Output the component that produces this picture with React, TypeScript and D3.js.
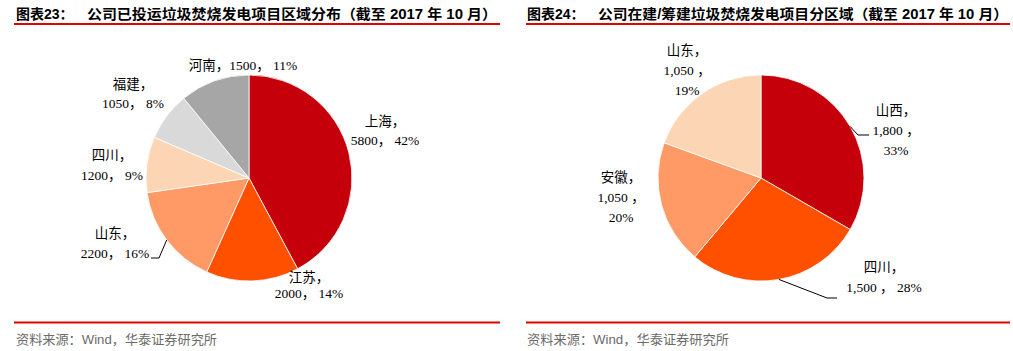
import * as React from 'react'
import { useEffect, useRef } from 'react'
import * as d3 from 'd3'

// chart 23: operating projects by region
const regions23 = ['上海', '江苏', '山东', '四川', '福建', '河南']
const values23 = [5800, 2000, 2200, 1200, 1050, 1500]
const pct23 = ['42%', '14%', '16%', '9%', '8%', '11%']
const colors23 = ['#C5000B', '#FF5000', '#FF9966', '#FCD5B5', '#D9D9D9', '#A6A6A6']

// chart 24: under construction / planned by region
const regions24 = ['山西', '四川', '安徽', '山东']
const values24 = [1800, 1500, 1050, 1050]
const valueText24 = ['1,800', '1,500', '1,050', '1,050']
const pct24 = ['33%', '28%', '20%', '19%']
const colors24 = ['#C5000B', '#FF5000', '#FF9966', '#FCD5B5']

const W = 1013
const H = 351
const R = 103
const LABEL_FONT = '"Liberation Serif", "DejaVu Serif", "Noto Sans CJK SC", serif'
const TITLE_FONT = '"Liberation Sans", Arial, "Noto Sans CJK SC", sans-serif'

function drawPie(
  g: d3.Selection<SVGGElement, unknown, null, undefined>,
  cx: number,
  cy: number,
  values: number[],
  colors: string[],
) {
  const pie = d3.pie<number>().sort(null).value(d => d)
  const arcs = pie(values)
  const arc = d3.arc<d3.PieArcDatum<number>>().innerRadius(0).outerRadius(R)
  const pg = g.append('g').attr('transform', `translate(${cx},${cy})`)
  pg.selectAll('path')
    .data(arcs)
    .join('path')
    .attr('d', arc)
    .attr('fill', (_, i) => colors[i])
    .attr('stroke', '#fff')
    .attr('stroke-width', 0.8)
  return arcs
}

// point on the rim at the middle of a slice (leader lines start here)
function edgePoint(a: d3.PieArcDatum<number>, cx: number, cy: number): [number, number] {
  const m = (a.startAngle + a.endAngle) / 2
  return [cx + Math.sin(m) * R, cy - Math.cos(m) * R]
}

export default function App() {
  const svgRef = useRef<SVGSVGElement>(null)

  useEffect(() => {
    document.body.style.margin = '0'
    if (!svgRef.current) return
    const svg = d3.select(svgRef.current)
    svg.selectAll('*').remove()
    const root = svg.append('g') as any

    // frames: titles, rules, sources
    const panels = [
      { x0: 14, x1: 500, tx: 16, mx: 87, mEnd: 497, srcEnd: 217, prefix: '图表23：', title: '公司已投运垃圾焚烧发电项目区域分布（截至 2017 年 10 月）' },
      { x0: 526, x1: 1010, tx: 527, mx: 598, mEnd: 1008, srcEnd: 729, prefix: '图表24：', title: '公司在建/筹建垃圾焚烧发电项目分区域（截至 2017 年 10 月）' },
    ]
    panels.forEach(p => {
      root.append('text')
        .attr('x', p.tx).attr('y', 19)
        .attr('font-family', TITLE_FONT).attr('font-weight', 'bold').attr('font-size', 14)
        .attr('fill', '#000')
        .text(p.prefix)
      root.append('text')
        .attr('x', p.mx).attr('y', 19)
        .attr('font-family', TITLE_FONT).attr('font-weight', 'bold').attr('font-size', 14)
        .attr('fill', '#000')
        .attr('textLength', p.mEnd - p.mx).attr('lengthAdjust', 'spacingAndGlyphs')
        .text(p.title)
      root.append('line')
        .attr('x1', p.x0).attr('x2', p.x1).attr('y1', 24).attr('y2', 24)
        .attr('stroke', '#E00000').attr('stroke-width', 2)
      root.append('line')
        .attr('x1', p.x0).attr('x2', p.x1).attr('y1', 322.5).attr('y2', 322.5)
        .attr('stroke', '#E00000').attr('stroke-width', 2)
      root.append('text')
        .attr('x', p.tx).attr('y', 344)
        .attr('font-family', TITLE_FONT).attr('font-size', 13)
        .attr('fill', '#6b6b6b')
        .attr('textLength', p.srcEnd - p.tx).attr('lengthAdjust', 'spacingAndGlyphs')
        .text('资料来源：Wind，华泰证券研究所')
    })

    // left pie
    const c1: [number, number] = [249, 178]
    const arcs1 = drawPie(root, c1[0], c1[1], values23, colors23)
    // label layout (x center, baselines)
    const layout1: { x: number; y1: number; y2: number; single?: boolean }[] = [
      { x: 385, y1: 126, y2: 145 },
      { x: 309, y1: 282, y2: 298 },
      { x: 115, y1: 238, y2: 258 },
      { x: 112, y1: 160, y2: 180 },
      { x: 133, y1: 89, y2: 108 },
      { x: 243, y1: 70, y2: 70, single: true },
    ]
    layout1.forEach((l, i) => {
      const line2 = `${values23[i]}， ${pct23[i]}`
      const t = root.append('text')
        .attr('font-family', LABEL_FONT).attr('font-size', 13.5)
        .attr('fill', '#000').attr('text-anchor', 'middle')
      if (l.single) {
        t.append('tspan').attr('x', l.x).attr('y', l.y1).text(`${regions23[i]}，${line2}`)
      } else {
        t.append('tspan').attr('x', l.x).attr('y', l.y1).text(`${regions23[i]}，`)
        t.append('tspan').attr('x', l.x).attr('y', l.y2).text(line2)
      }
    })
    // leader for 山东
    {
      const [ex, ey] = edgePoint(arcs1[2], c1[0], c1[1])
      root.append('path')
        .attr('d', d3.line()([[ex, ey], [159, 258], [151, 258]]))
        .attr('fill', 'none').attr('stroke', '#000').attr('stroke-width', 1)
    }

    // right pie
    const c2: [number, number] = [761, 178]
    const arcs2 = drawPie(root, c2[0], c2[1], values24, colors24)
    const layout2: { x: number; ys: number[]; lines: string[] }[] = [
      { x: 896, ys: [115, 135, 155], lines: [`${regions24[0]}，`, `${valueText24[0]} ，`, pct24[0]] },
      { x: 884, ys: [272, 292], lines: [`${regions24[1]}，`, `${valueText24[1]} ， ${pct24[1]}`] },
      { x: 621, ys: [182, 202, 222], lines: [`${regions24[2]}，`, `${valueText24[2]} ，`, pct24[2]] },
      { x: 687, ys: [55, 75, 95], lines: [`${regions24[3]}，`, `${valueText24[3]} ，`, pct24[3]] },
    ]
    layout2.forEach(l => {
      const t = root.append('text')
        .attr('font-family', LABEL_FONT).attr('font-size', 13.5)
        .attr('fill', '#000').attr('text-anchor', 'middle')
      l.lines.forEach((s, k) => {
        t.append('tspan').attr('x', l.x).attr('y', l.ys[k]).text(s)
      })
    })
    {
      const [ex, ey] = edgePoint(arcs2[0], c2[0], c2[1])
      root.append('path')
        .attr('d', d3.line()([[ex, ey], [858, 135], [869, 135]]))
        .attr('fill', 'none').attr('stroke', '#000').attr('stroke-width', 1)
      const [fx, fy] = edgePoint(arcs2[1], c2[0], c2[1])
      root.append('path')
        .attr('d', d3.line()([[fx, fy], [827, 298], [837, 298]]))
        .attr('fill', 'none').attr('stroke', '#000').attr('stroke-width', 1)
    }
  }, [])

  return <svg ref={svgRef} width={W} height={H} style={{ display: 'block', background: '#fff' }} />
}
